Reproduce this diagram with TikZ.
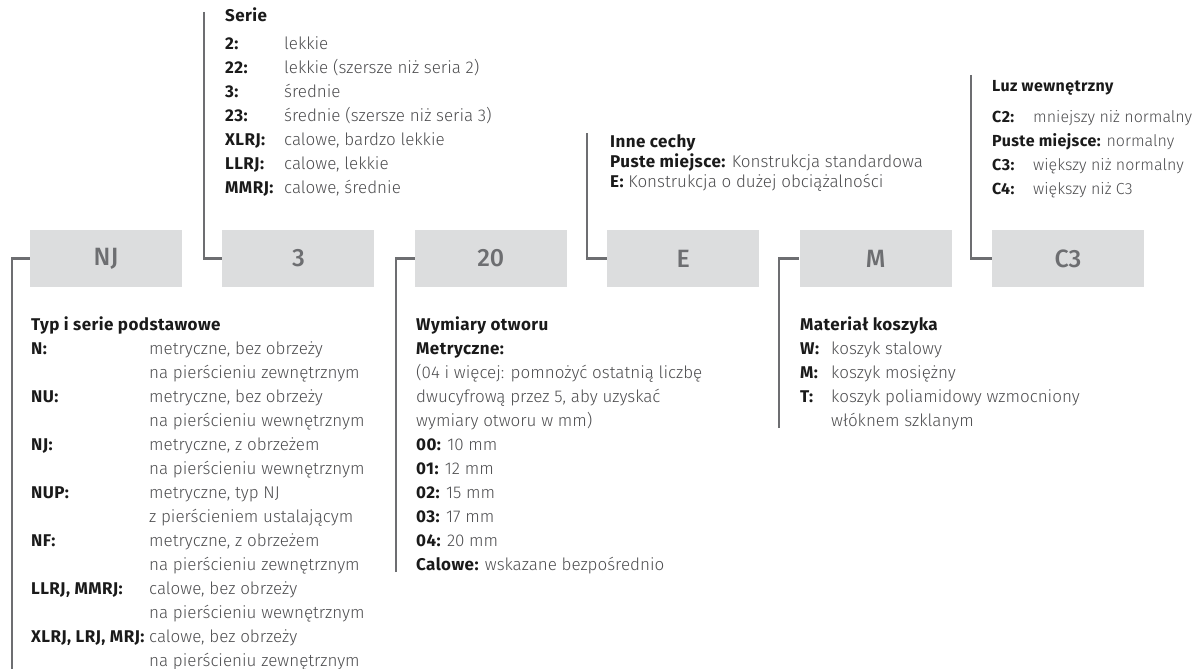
\documentclass[tikz,border=0pt]{standalone}
\usepackage{fontspec}
\setmainfont{Fira Sans}[UprightFont={* Light}, BoldFont={* Bold}, BoldFeatures={LetterSpace=2.5}]
\newfontfamily\boxfont{Fira Sans}[UprightFont={* Medium}]
\usetikzlibrary{positioning}

\definecolor{linegray}{HTML}{6D6E71}
\definecolor{boxgray}{HTML}{DCDDDE}
\definecolor{txtgray}{HTML}{4D4D4F}
\definecolor{txtdark}{HTML}{1A1A1A}
\newcommand{\lbl}[1]{\textbf{\color{txtdark}#1}}

\begin{document}
\begin{tikzpicture}[
    x=1pt, y=-1pt, % work in pixel-like units, y pointing down
    codebox/.style={fill=boxgray, text=linegray, minimum width=152pt,
        minimum height=57pt, inner sep=0pt, font=\boxfont\fontsize{25}{30}\selectfont}, % grey code boxes
    conn/.style={draw=linegray, line width=2.5pt}, % bracket lines
    desc/.style={anchor=base west, inner sep=0pt, text=txtgray,
        font=\fontsize{17}{24}\selectfont} % description blocks
]
    \useasboundingbox (0,0) rectangle (1203,669);

    % Code boxes
    \node[codebox] (nj) at (106,258.5) {NJ};
    \node[codebox, right=40pt of nj] (ser) {3};
    \node[codebox, right=40pt of ser] (bore) {20};
    \node[codebox, right=40pt of bore] (feat) {E};
    \node[codebox, right=40pt of feat] (cage) {M};
    \node[codebox, right=40pt of cage] (clr) {C3};

    % Free ends of the bracket lines
    \coordinate (nj-end)   at (12,669);
    \coordinate (ser-end)  at (204,12);
    \coordinate (bore-end) at (396,572);
    \coordinate (feat-end) at (587,133);
    \coordinate (cage-end) at (779,428);
    \coordinate (clr-end)  at (971,75);

    % Bracket lines
    \draw[conn] (nj-end) |- (nj.west);
    \draw[conn] (ser-end) |- (ser.west);
    \draw[conn] (bore-end) |- (bore.west);
    \draw[conn] (feat-end) |- (feat.west);
    \draw[conn] (cage-end) |- (cage.west);
    \draw[conn] (clr-end) |- (clr.west);

    % Type and basic series
    \node[desc] (nj-txt) at (31,330) {\begin{tabular}[t]{@{}p{118pt}@{}l@{}}
        \multicolumn{2}{@{}l@{}}{\lbl{Typ i serie podstawowe}}\\
        \lbl{N:} & metryczne, bez obrzeży\\
                 & na pierścieniu zewnętrznym\\
        \lbl{NU:} & metryczne, bez obrzeży\\
                  & na pierścieniu wewnętrznym\\
        \lbl{NJ:} & metryczne, z obrzeżem\\
                  & na pierścieniu wewnętrznym\\
        \lbl{NUP:} & metryczne, typ NJ\\
                   & z pierścieniem ustalającym\\
        \lbl{NF:} & metryczne, z obrzeżem\\
                  & na pierścieniu zewnętrznym\\
        \lbl{LLRJ, MMRJ:} & calowe, bez obrzeży\\
                          & na pierścieniu wewnętrznym\\
        \lbl{XLRJ, LRJ, MRJ:} & calowe, bez obrzeży\\
                              & na pierścieniu zewnętrznym
    \end{tabular}};

    % Series
    \node[desc] (ser-txt) at (225,22) {\begin{tabular}[t]{@{}p{59pt}@{}l@{}}
        \multicolumn{2}{@{}l@{}}{\lbl{Serie}}\\[4pt]
        \lbl{2:} & lekkie\\
        \lbl{22:} & lekkie (szersze niż seria 2)\\
        \lbl{3:} & średnie\\
        \lbl{23:} & średnie (szersze niż seria 3)\\
        \lbl{XLRJ:} & calowe, bardzo lekkie\\
        \lbl{LLRJ:} & calowe, lekkie\\
        \lbl{MMRJ:} & calowe, średnie
    \end{tabular}};

    % Bore size
    \node[desc] (bore-txt) at (416,330) {\begin{tabular}[t]{@{}l@{}}
        \lbl{Wymiary otworu}\\
        \lbl{Metryczne:}\\
        (04 i więcej: pomnożyć ostatnią liczbę\\
        dwucyfrową przez 5, aby uzyskać\\
        wymiary otworu w mm)\\
        \lbl{00:} 10 mm\\
        \lbl{01:} 12 mm\\
        \lbl{02:} 15 mm\\
        \lbl{03:} 17 mm\\
        \lbl{04:} 20 mm\\
        \lbl{Calowe:} wskazane bezpośrednio
    \end{tabular}};

    % Other features
    \node[desc, font=\fontsize{17}{20}\selectfont] (feat-txt) at (610,147) {\begin{tabular}[t]{@{}l@{}}
        \lbl{Inne cechy}\\
        \lbl{Puste miejsce:} Konstrukcja standardowa\\
        \lbl{E:} Konstrukcja o dużej obciążalności
    \end{tabular}};

    % Cage material
    \node[desc] (cage-txt) at (800,330) {\begin{tabular}[t]{@{}p{31pt}@{}l@{}}
        \multicolumn{2}{@{}l@{}}{\lbl{Materiał koszyka}}\\
        \lbl{W:} & koszyk stalowy\\
        \lbl{M:} & koszyk mosiężny\\
        \lbl{T:} & koszyk poliamidowy wzmocniony\\
                 & włóknem szklanym
    \end{tabular}};

    % Internal clearance
    \node[desc, font=\fontsize{16}{24}\selectfont] (clr-txt) at (992,92) {\begin{tabular}[t]{@{}p{41pt}@{}l@{}}
        \multicolumn{2}{@{}l@{}}{\lbl{Luz wewnętrzny}}\\[7pt]
        \lbl{C2:} & mniejszy niż normalny\\
        \multicolumn{2}{@{}l@{}}{\lbl{Puste miejsce:} normalny}\\
        \lbl{C3:} & większy niż normalny\\
        \lbl{C4:} & większy niż C3
    \end{tabular}};

\end{tikzpicture}
\end{document}
